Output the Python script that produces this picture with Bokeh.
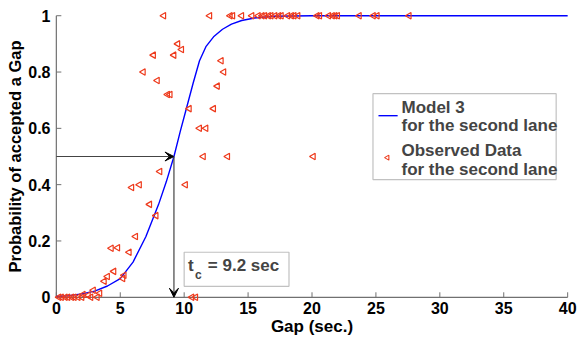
from bokeh.plotting import figure
from bokeh.models import Range1d, Arrow, VeeHead, BoxAnnotation, Label, FixedTicker
from bokeh.embed import file_html
from bokeh.resources import INLINE
import math

# ---- data ----
model_x = [0, 1, 2, 3, 4, 5, 6, 7, 8, 8.6, 9.2, 9.7, 10.2, 10.7, 11.2, 11.7, 12.3, 13, 13.7, 14.5, 15.5, 17, 20, 40]
model_y = [0.003, 0.006, 0.012, 0.022, 0.04, 0.066, 0.125, 0.215, 0.33, 0.41, 0.5, 0.59, 0.675, 0.76, 0.84, 0.89, 0.925, 0.952, 0.97, 0.983, 0.992, 0.998, 1.0, 1.0]

obs_x = [8.4, 12.0, 13.6, 13.8, 14.5, 15.3, 15.8, 16.1, 16.3, 16.6, 16.8, 17.1, 17.4, 17.6,
         18.1, 18.4, 18.6, 18.9, 20.4, 20.6, 21.3, 21.6, 21.8, 22.0, 23.7, 24.8, 25.1, 27.6,
         9.5, 9.8, 7.6, 9.2, 6.8, 7.9, 8.7, 8.9, 12.9, 13.1, 12.6, 10.4, 12.3,
         11.2, 11.7, 11.5, 13.4, 20.1, 10.1, 8.1, 5.9, 6.5, 7.3, 7.8, 6.2,
         4.3, 4.8, 5.7, 4.5, 4.0, 3.75, 5.2, 5.3, 2.9, 3.4, 2.5, 2.1,
         0.2, 0.4, 0.7, 0.9, 1.2, 1.4, 1.7, 2.0, 2.7, 3.2, 10.6, 10.9]
obs_y = [1, 1, 1, 1, 1, 1, 1, 1, 1, 1, 1, 1, 1, 1,
         1, 1, 1, 1, 1, 1, 1, 1, 1, 1, 1, 1, 1, 1,
         0.90, 0.88, 0.86, 0.86, 0.80, 0.77, 0.72, 0.72, 0.84, 0.80, 0.75, 0.67, 0.67,
         0.60, 0.60, 0.50, 0.50, 0.50, 0.40, 0.447, 0.39, 0.40, 0.33, 0.29, 0.216,
         0.174, 0.176, 0.16, 0.092, 0.074, 0.057, 0.067, 0.078, 0.025, 0.014, 0.007, 0.01,
         0, 0, 0, 0, 0, 0, 0, 0, 0, 0, 0, 0]

x_ticks = [0, 5, 10, 15, 20, 25, 30, 35, 40]
y_ticks = [0, 0.2, 0.4, 0.6, 0.8, 1]
y_tick_labels = ["0", "0.2", "0.4", "0.6", "0.8", "1"]

tc = 9.2
p_half = 0.5

FONT = "Liberation Sans"
AX = "#707070"
RED = "#ee3a1c"

p = figure(width=579, height=341, x_range=Range1d(-0.3, 40.3), y_range=Range1d(-0.015, 1.015),
           output_backend="svg", toolbar_location=None,
           min_border_left=52, min_border_right=8, min_border_top=11, min_border_bottom=40)
p.outline_line_color = None
p.grid.visible = False
p.background_fill_color = "white"

for ax in (p.xaxis[0], p.yaxis[0]):
    ax.axis_line_color = None
    ax.major_tick_line_color = None
    ax.minor_tick_line_color = None
    ax.major_tick_in = 0
    ax.major_tick_out = 0
    ax.minor_tick_in = 0
    ax.minor_tick_out = 0
    ax.major_label_text_font = FONT
    ax.major_label_text_font_style = "bold"
    ax.major_label_text_font_size = "16px"
    ax.major_label_text_color = "black"
    ax.axis_label_text_font = FONT
    ax.axis_label_text_font_style = "bold"
    ax.axis_label_text_font_size = "17px"
    ax.axis_label_text_color = "black"

p.yaxis.axis_label_text_font_size = "16.5px"
p.xaxis.ticker = FixedTicker(ticks=x_ticks)
p.yaxis.ticker = FixedTicker(ticks=y_ticks)
p.yaxis.major_label_overrides = {t: s for t, s in zip(y_ticks, y_tick_labels)}
p.xaxis.major_label_standoff = 0
p.yaxis.major_label_standoff = 2
p.xaxis.axis_label = "Gap (sec.)"
p.yaxis.axis_label = "Probability of accepted a Gap"
p.xaxis.axis_label_standoff = 0
p.yaxis.axis_label_standoff = 1

# manual axis lines at data 0
p.segment(x0=[x_ticks[0]], y0=[y_ticks[0]], x1=[x_ticks[-1]], y1=[y_ticks[0]], line_color=AX, line_width=1.2)
p.segment(x0=[x_ticks[0]], y0=[y_ticks[0]], x1=[x_ticks[0]], y1=[y_ticks[-1]], line_color=AX, line_width=1.2)
# inward ticks
xt_len = 5 / 282.0
yt_len = 5 / 12.8
p.segment(x0=x_ticks, y0=[0] * len(x_ticks), x1=x_ticks, y1=[xt_len] * len(x_ticks), line_color=AX, line_width=1)
p.segment(x0=[0] * len(y_ticks), y0=y_ticks, x1=[yt_len] * len(y_ticks), y1=y_ticks, line_color=AX, line_width=1)

# model curve
p.line(model_x, model_y, line_color="#0000ff", line_width=1.4, line_join="round")

# observed data
p.scatter(obs_x, obs_y, marker="triangle", angle=math.pi / 2, size=6.5,
          fill_color=None, line_color=RED, line_width=1.2)

# tc arrows
p.add_layout(Arrow(end=VeeHead(size=9, fill_color="black", line_color="black"),
                   x_start=0, y_start=p_half, x_end=tc, y_end=p_half,
                   line_color="#444444", line_width=1.2))
p.add_layout(Arrow(end=VeeHead(size=9, fill_color="black", line_color="black"),
                   x_start=tc, y_start=p_half, x_end=tc, y_end=0.0,
                   line_color="#444444", line_width=1.2))

# tc box
p.add_layout(BoxAnnotation(left=10.0, right=18.2, bottom=0.039, top=0.16,
                           fill_color="white", fill_alpha=1, line_color="#333333", line_width=1.2,
                           level="annotation"))
p.add_layout(Label(x=10.3, y=0.113, text="t", text_font=FONT, text_font_style="bold",
                   text_font_size="17px", text_baseline="middle", level="overlay"))
p.add_layout(Label(x=10.85, y=0.078, text="c", text_font=FONT, text_font_style="bold",
                   text_font_size="12px", text_baseline="middle", level="overlay"))
p.add_layout(Label(x=11.85, y=0.113, text="= 9.2 sec", text_font=FONT, text_font_style="bold",
                   text_font_size="17px", text_baseline="middle", level="overlay"))

# legend
p.add_layout(BoxAnnotation(left=24.77, right=39.1, bottom=0.418, top=0.723,
                           fill_color="white", fill_alpha=1, line_color="#333333", line_width=1.2,
                           level="annotation"))
p.segment(x0=[25.2], y0=[0.645], x1=[26.7], y1=[0.645], line_color="#0000ff", line_width=1.4, level="overlay")
p.scatter([25.9], [0.496], marker="triangle", angle=math.pi / 2, size=5,
          fill_color=None, line_color=RED, line_width=1.1, level="overlay")
for ty, txt in [(0.674, "Model 3"), (0.61, "for the second lane"),
                (0.521, "Observed Data"), (0.454, "for the second lane")]:
    p.add_layout(Label(x=27.0, y=ty, text=txt, text_font=FONT, text_font_style="bold",
                       text_font_size="17px", text_baseline="middle", level="overlay"))

open("out.html", "w").write(file_html(p, INLINE))
